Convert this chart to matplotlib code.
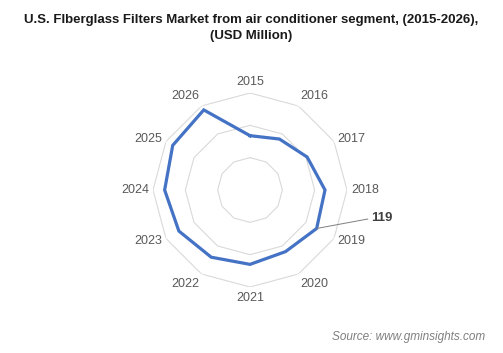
import numpy as np
import matplotlib
matplotlib.use("Agg")
import matplotlib.pyplot as plt

plt.rcParams['font.family'] = ['Liberation Sans', 'DejaVu Sans']

# Data
years = ['2015', '2016', '2017', '2018', '2019', '2020',
         '2021', '2022', '2023', '2024', '2025', '2026']
values = [84, 91, 102, 116, 119, 110, 115, 120, 127, 132, 138, 143]
ring_values = [50, 100, 150]
r_max = 150
callout_year = '2019'
callout_text = '119'

line_color = '#4472C4'
grid_color = '#D9D9D9'
label_color = '#595959'

fig = plt.figure(figsize=(5.03, 3.53), dpi=100)

# polar axes centered at (250,190) px with radius 97 px
cx, cy, rad = 250 / 503, 1 - 190 / 353, 97
ax = fig.add_axes([cx - rad / 503, cy - rad / 353, 2 * rad / 503, 2 * rad / 353],
                  projection='polar')
ax.set_theta_zero_location('N')
ax.set_theta_direction(-1)
ax.set_ylim(0, r_max)
ax.grid(False)
ax.spines['polar'].set_visible(False)
ax.set_xticks([])
ax.set_yticks([])
ax.patch.set_alpha(0)

n = len(years)
theta = np.arange(n) * 2 * np.pi / n
theta_closed = np.append(theta, theta[0])

# polygon gridlines
for rv in ring_values:
    ax.plot(theta_closed, [rv] * (n + 1), color=grid_color, lw=0.8, zorder=1)

# data line
vals_closed = values + [values[0]]
ax.plot(theta_closed, vals_closed, color=line_color, lw=2.3, zorder=3,
        solid_joinstyle='miter')

# category labels
for t, yr in zip(theta, years):
    s, c = np.sin(t), np.cos(t)
    if s > 0.1:
        ha = 'left'
    elif s < -0.1:
        ha = 'right'
    else:
        ha = 'center'
    if c > 0.8:
        va = 'bottom'
    elif c < -0.8:
        va = 'top'
    else:
        va = 'center'
    ax.annotate(yr, xy=(t, r_max), xytext=(4 * s, 5 * c), textcoords='offset pixels',
                ha=ha, va=va, fontsize=9, color=label_color, annotation_clip=False)

# callout
i = years.index(callout_year)
ax.annotate(callout_text, xy=(theta[i], values[i]), xytext=(54, 10),
            textcoords='offset pixels', ha='left', va='center',
            fontsize=9.5, fontweight='bold', color='#404040',
            arrowprops=dict(arrowstyle='-', color='#7F7F7F', lw=0.7,
                            shrinkA=0, shrinkB=0, relpos=(0, 0.5)),
            annotation_clip=False)

fig.text(0.5, 1 - 20 / 353, 'U.S. FIberglass Filters Market from air conditioner segment, (2015-2026),',
         ha='center', va='center', fontsize=9.5, fontweight='bold', color='#1a1a1a')
fig.text(0.5, 1 - 36.5 / 353, '(USD Million)',
         ha='center', va='center', fontsize=9.5, fontweight='bold', color='#1a1a1a')

fig.text(485 / 503, 1 - 337 / 353, 'Source: www.gminsights.com', ha='right', va='center',
         fontsize=8.5, style='italic', color='#7F7F7F')

fig.savefig('out.png', dpi=100)
